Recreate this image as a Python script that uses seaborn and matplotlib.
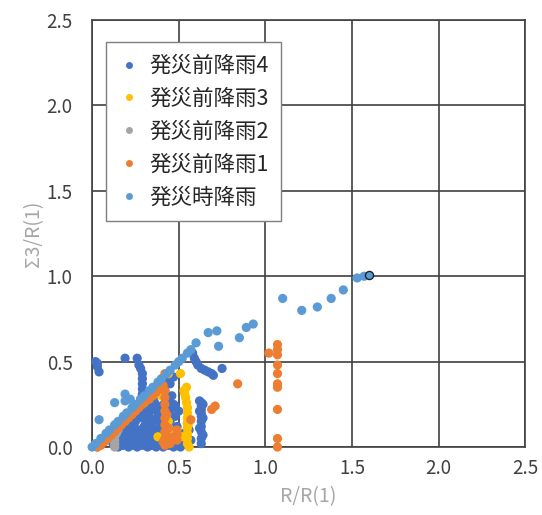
import matplotlib
matplotlib.use("Agg")
import matplotlib.pyplot as plt
import seaborn as sns
import pandas as pd
from matplotlib.lines import Line2D

# ---- data: R/R(1) (x) and Σ3/R(1) (y) for each rainfall period ----
series_names = ["発災前降雨4", "発災前降雨3", "発災前降雨2", "発災前降雨1", "発災時降雨"]
series_colors = ["#4472C4", "#FFC000", "#A5A5A5", "#ED7D31", "#5B9BD5"]

pre4_x = [0.02, 0.03, 0.04, 0.03, 0.19, 0.26, 0.27, 0.28, 0.29, 0.29, 0.29, 0.29, 0.29, 0.28, 0.29,
          0.58, 0.59, 0.60, 0.61, 0.63, 0.65, 0.67, 0.69, 0.70, 0.75,
          0.63, 0.63, 0.63, 0.63, 0.63, 0.63, 0.63, 0.63, 0.63, 0.63,
          0.12, 0.14, 0.16, 0.18, 0.20, 0.22, 0.24, 0.26, 0.28, 0.30, 0.32, 0.34, 0.36, 0.38, 0.40, 0.42,
          0.20, 0.22, 0.24, 0.25, 0.27, 0.28, 0.30, 0.30, 0.31, 0.32, 0.33, 0.33, 0.34, 0.35, 0.35, 0.36,
          0.36, 0.37, 0.38, 0.38, 0.39, 0.40, 0.40, 0.41, 0.42, 0.43, 0.44, 0.44, 0.45, 0.46, 0.47, 0.48,
          0.49, 0.50, 0.17, 0.19, 0.26, 0.52, 0.53, 0.50, 0.47, 0.46, 0.31, 0.31, 0.32, 0.32, 0.34, 0.35,
          0.23, 0.25, 0.27, 0.45, 0.47, 0.43,
          0.15, 0.18, 0.21, 0.23, 0.26, 0.29, 0.32, 0.34, 0.37, 0.39, 0.41, 0.44, 0.47, 0.49, 0.51,
          0.16, 0.19, 0.22, 0.25, 0.28, 0.31, 0.34, 0.37, 0.40, 0.43, 0.46, 0.49,
          0.24, 0.27, 0.30, 0.33, 0.36, 0.39, 0.42, 0.45, 0.48,
          0.62, 0.64, 0.62, 0.64, 0.62, 0.64, 0.55, 0.56, 0.57]
pre4_y = [0.50, 0.47, 0.44, 0.49, 0.52, 0.52, 0.48, 0.46, 0.43, 0.40, 0.37, 0.34, 0.31, 0.28, 0.25,
          0.55, 0.52, 0.50, 0.48, 0.46, 0.45, 0.44, 0.43, 0.42, 0.46,
          0.26, 0.24, 0.22, 0.20, 0.18, 0.15, 0.12, 0.09, 0.05, 0.02,
          0.02, 0.05, 0.08, 0.11, 0.14, 0.16, 0.18, 0.21, 0.23, 0.25, 0.27, 0.29, 0.30, 0.31, 0.32, 0.33,
          0.02, 0.05, 0.08, 0.03, 0.10, 0.06, 0.02, 0.12, 0.16, 0.08, 0.04, 0.20, 0.12, 0.01, 0.16, 0.06,
          0.22, 0.10, 0.03, 0.18, 0.14, 0.07, 0.24, 0.02, 0.12, 0.20, 0.05, 0.27, 0.15, 0.09, 0.02, 0.18,
          0.12, 0.05, 0.01, 0.04, 0.01, 0.02, 0.08, 0.21, 0.25, 0.30, 0.14, 0.10, 0.06, 0.02, 0.13, 0.09,
          0.12, 0.15, 0.17, 0.37, 0.41, 0.38,
          0.00, 0.01, 0.00, 0.01, 0.00, 0.01, 0.00, 0.01, 0.00, 0.01, 0.00, 0.01, 0.00, 0.01, 0.00,
          0.04, 0.07, 0.10, 0.06, 0.09, 0.05, 0.08, 0.05, 0.10, 0.08, 0.05, 0.08,
          0.13, 0.19, 0.20, 0.24, 0.26, 0.22, 0.26, 0.22, 0.24,
          0.27, 0.25, 0.21, 0.17, 0.11, 0.07, 0.14, 0.10, 0.04]

pre3_x = [0.44, 0.51, 0.53, 0.535, 0.54, 0.55, 0.55, 0.55, 0.55, 0.55, 0.55, 0.55, 0.55, 0.56,
          0.44, 0.38, 0.40, 0.45, 0.52, 0.30, 0.36, 0.545, 0.545, 0.555]
pre3_y = [0.43, 0.43, 0.33, 0.31, 0.29, 0.23, 0.20, 0.17, 0.14, 0.11, 0.08, 0.05, 0.02, 0.00,
          0.15, 0.06, 0.30, 0.10, 0.06, 0.26, 0.31, 0.26, 0.35, 0.13]

pre2_x = [0.03, 0.05, 0.07, 0.09, 0.11, 0.13, 0.15, 0.13, 0.13, 0.13, 0.13, 0.14]
pre2_y = [0.00, 0.02, 0.04, 0.05, 0.07, 0.09, 0.10, 0.06, 0.04, 0.02, 0.00, 0.08]

pre1_x = [0.03, 0.05, 0.07, 0.09, 0.11, 0.13, 0.15, 0.17, 0.19, 0.21, 0.23, 0.25, 0.27, 0.29, 0.31,
          0.33, 0.35, 0.37, 0.39, 0.41, 0.42,
          0.42, 0.42, 0.42, 0.42, 0.42, 0.42, 0.42, 0.42, 0.42, 0.41,
          0.49, 0.49, 0.49, 0.47, 0.45, 0.57, 0.69, 0.71, 0.84,
          1.07, 1.07, 1.07, 1.02, 1.07, 1.07, 1.07, 1.07, 1.07, 1.07, 1.07,
          0.43, 0.44, 0.43, 0.44]
pre1_y = [0.00, 0.01, 0.03, 0.05, 0.07, 0.09, 0.11, 0.13, 0.15, 0.17, 0.19, 0.21, 0.23, 0.25, 0.27,
          0.28, 0.30, 0.32, 0.34, 0.36, 0.43,
          0.33, 0.29, 0.25, 0.21, 0.17, 0.13, 0.09, 0.05, 0.01, 0.03,
          0.10, 0.07, 0.04, 0.06, 0.02, 0.16, 0.22, 0.24, 0.37,
          0.60, 0.57, 0.54, 0.55, 0.48, 0.43, 0.37, 0.35, 0.22, 0.05, 0.00,
          0.19, 0.11, 0.07, 0.03]

during_x = [0.00, 0.02, 0.05, 0.08, 0.10, 0.13, 0.15, 0.18, 0.20, 0.23, 0.25, 0.28, 0.30, 0.33,
            0.35, 0.38, 0.40, 0.43, 0.45, 0.48, 0.50, 0.52, 0.55, 0.57, 0.60,
            0.04, 0.13, 0.19, 0.19, 0.22, 0.67, 0.72, 0.73, 0.85, 0.89, 0.93,
            1.10, 1.21, 1.30, 1.38, 1.45, 1.53, 1.57]
during_y = [0.00, 0.02, 0.05, 0.08, 0.10, 0.13, 0.15, 0.18, 0.20, 0.23, 0.25, 0.28, 0.30, 0.33,
            0.35, 0.38, 0.40, 0.43, 0.45, 0.48, 0.50, 0.52, 0.55, 0.57, 0.61,
            0.16, 0.26, 0.31, 0.27, 0.28, 0.67, 0.68, 0.59, 0.64, 0.70, 0.72,
            0.87, 0.80, 0.82, 0.87, 0.92, 0.99, 1.00]

# highlighted point
mark_x = [1.60]
mark_y = [1.01]

ticks = [0.0, 0.5, 1.0, 1.5, 2.0, 2.5]
tick_labels = ["0.0", "0.5", "1.0", "1.5", "2.0", "2.5"]

# ---- build long table ----
frames = []
for name, xs, ys in zip(series_names,
                        [pre4_x, pre3_x, pre2_x, pre1_x, during_x],
                        [pre4_y, pre3_y, pre2_y, pre1_y, during_y]):
    frames.append(pd.DataFrame({"x": xs, "y": ys, "series": name}))
df = pd.concat(frames, ignore_index=True)

sns.set_theme(style="white")
plt.rcParams["font.family"] = ["Noto Sans CJK JP", "DejaVu Sans"]

fig = plt.figure(figsize=(5.42, 5.15), dpi=100)
ax = fig.add_axes([0.170, 0.132, 0.799, 0.829])

sns.scatterplot(data=df, x="x", y="y", hue="series", hue_order=series_names,
                palette=series_colors, s=44, linewidth=0, ax=ax, legend=False,
                zorder=3, clip_on=False)
ax.scatter(mark_x, mark_y, s=34, color=series_colors[4], edgecolor="#222222",
           linewidth=1.0, zorder=4)

ax.set_xlim(0, 2.5)
ax.set_ylim(0, 2.5)
ax.set_xticks(ticks)
ax.set_xticklabels(tick_labels)
ax.set_yticks(ticks)
ax.set_yticklabels(tick_labels)
ax.tick_params(axis="both", length=0, labelsize=13.5, colors="#404040")
ax.tick_params(axis="y", pad=14)
ax.tick_params(axis="x", pad=8)

ax.grid(True, color="#404040", linewidth=1.2)
ax.set_axisbelow(True)
for sp in ax.spines.values():
    sp.set_color("#404040")
    sp.set_linewidth(1.2)

ax.set_xlabel("R/R(1)", fontsize=14, color="#A6A6A6", labelpad=5)
ax.set_ylabel("Σ3/R(1)", fontsize=14, color="#A6A6A6", labelpad=2)

handles = [Line2D([0], [0], marker="o", linestyle="", markersize=5,
                  markerfacecolor=c, markeredgewidth=0) for c in series_colors]
leg = ax.legend(handles, series_names, loc="upper left", bbox_to_anchor=(0.032, 0.948),
                borderaxespad=0, fontsize=15.5, frameon=True, fancybox=False,
                edgecolor="#7F7F7F", framealpha=1, labelspacing=0.5,
                handlelength=0.9, handletextpad=0.5, borderpad=0.6)
leg.get_frame().set_linewidth(1.0)
for t in leg.get_texts():
    t.set_color("#262626")

fig.savefig("out.png", dpi=100)
